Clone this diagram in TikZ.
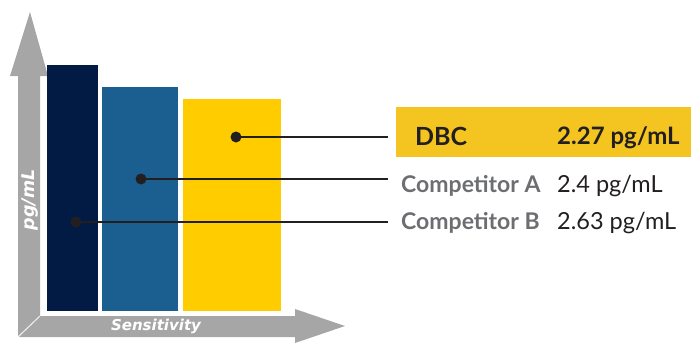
\documentclass[tikz,border=0pt]{standalone}
\usepackage{fontspec}
\setmainfont{Lato}
\newfontfamily\axisfont{DejaVu Sans}
\usepackage{tikz}
\usetikzlibrary{positioning}
\definecolor{dbcnavy}{HTML}{021B45}
\definecolor{dbcblue}{HTML}{1A5F90}
\definecolor{dbcyellow}{HTML}{FFCC00}
\definecolor{boxyellow}{HTML}{F4C521}
\definecolor{axisgray}{HTML}{A6A6A6}
\definecolor{namegray}{HTML}{6D6E71}
\definecolor{inkdark}{HTML}{231F20}
\tikzset{%
  bar/.style={draw=none,inner sep=0,anchor=south west},
  gdot/.style={shape=circle,fill=inkdark,inner sep=0,minimum size=11},
  lead/.style={draw=inkdark,line width=2.4},
  axislabel/.style={text=white,inner sep=0,font=\axisfont\bfseries\itshape\fontsize{15}{15}\selectfont},
  namelabel/.style={anchor=base west,inner sep=0,text=namegray,font=\bfseries\fontsize{23}{23}\selectfont},
  valuelabel/.style={anchor=base west,inner sep=0,text=inkdark,font=\fontsize{23.5}{23.5}\selectfont},
  dbclabel/.style={anchor=base west,inner sep=0,text=inkdark,font=\bfseries\fontsize{25}{25}\selectfont}
}
\begin{document}
\begin{tikzpicture}[x=1pt,y=-1pt]
    \useasboundingbox (0,0) rectangle (691,343);
    % axes
    \fill[axisgray] (30,12) -- (48,76) -- (40,76) -- (40,316) -- (295,316) -- (295,309)
      -- (345,326) -- (295,343) -- (295,337) -- (20,337) -- (18,335) -- (18,76) -- (10,76) -- cycle;
    \draw[white!85!axisgray,line width=1] (40,316) -- (19,336);
    \node[axislabel,rotate=90,font=\axisfont\bfseries\itshape\fontsize{17.5}{17.5}\selectfont] (ylab) at (30,200) {pg/mL};
    \node[axislabel] (xlab) at (156,326) {Sensitivity};
    % bars
    \path
      (47,311) node (barB)[bar,fill=dbcnavy,minimum width=51,minimum height=246]{}
      (102,311) node (barA)[bar,fill=dbcblue,minimum width=76,minimum height=224]{}
      (183,311) node (barD)[bar,fill=dbcyellow,minimum width=98,minimum height=212]{};
    \path
      (236,137) node (dotD)[gdot]{}
      (141,179) node (dotA)[gdot]{}
      (76,222) node (dotB)[gdot]{};
    \coordinate (endD) at (388,137);
    \coordinate (endA) at (388,179);
    \coordinate (endB) at (388,222);
    \draw[lead] (dotD.center) -- (endD);
    \draw[lead] (dotA.center) -- (endA);
    \draw[lead] (dotB.center) -- (endB);
    % labels
    \node[fill=boxyellow,inner sep=0,anchor=north west,minimum width=295,minimum height=50] (boxD) at (396,107) {};
    \node[dbclabel] (nameD) at (415,145) {DBC};
    \node[dbclabel,font=\bfseries\fontsize{24}{24}\selectfont] (valueD) at (557,144) {2.27 pg/mL};
    \node[namelabel] (nameA) at (401,192) {Competitor A};
    \node[valuelabel] (valueA) at (557,192) {2.4 pg/mL};
    \node[namelabel] (nameB) at (401,229) {Competitor B};
    \node[valuelabel] (valueB) at (557,229) {2.63 pg/mL};
\end{tikzpicture}
\end{document}
